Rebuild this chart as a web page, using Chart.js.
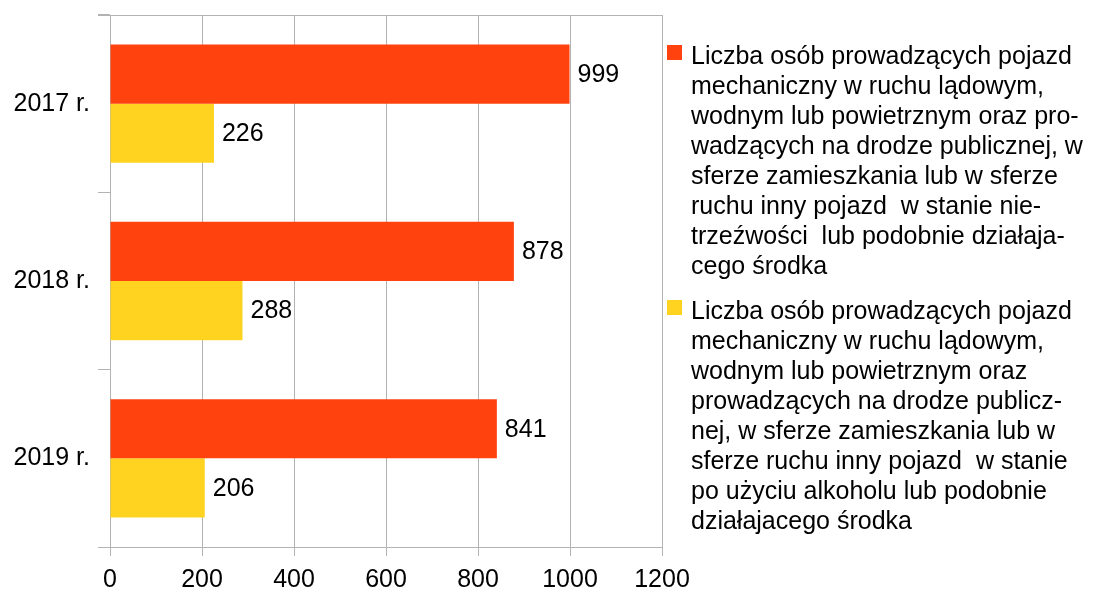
<!DOCTYPE html>
<html>
<head>
<meta charset="utf-8">
<script src="https://cdn.jsdelivr.net/npm/chart.js@4"></script>
<style>
    html, body { margin: 0; padding: 0; background: #ffffff; }
    body { width: 1103px; height: 592px; position: relative; overflow: hidden; font-family: "Liberation Sans", Arial, sans-serif; }
    #chartBox { position: absolute; left: 0; top: 0; width: 700px; height: 592px; }
    .legend-item { position: absolute; left: 667px; }
    .legend-box { position: absolute; left: 0; width: 15px; height: 15px; }
    .legend-text { position: absolute; left: 24px; font-size: 25px; line-height: 30px; color: #000; white-space: nowrap; }
</style>
</head>
<body>
<div id="chartBox"><canvas id="chart" width="700" height="592"></canvas></div>
<div class="legend-item" id="legend1" style="top: 40px;">
    <div class="legend-box" style="top: 5px; background: #ff420e;"></div>
    <div class="legend-text">Liczba osób prowadzących pojazd<br>mechaniczny w ruchu lądowym,<br>wodnym lub powietrznym oraz pro-<br>wadzących na drodze publicznej, w<br>sferze zamieszkania lub w sferze<br>ruchu inny pojazd&nbsp; w stanie nie-<br>trzeźwości&nbsp; lub podobnie działaja-<br>cego środka</div>
</div>
<div class="legend-item" id="legend2" style="top: 295px;">
    <div class="legend-box" style="top: 5px; background: #ffd320;"></div>
    <div class="legend-text">Liczba osób prowadzących pojazd<br>mechaniczny w ruchu lądowym,<br>wodnym lub powietrznym oraz<br>prowadzących na drodze publicz-<br>nej, w sferze zamieszkania lub w<br>sferze ruchu inny pojazd&nbsp; w stanie<br>po użyciu alkoholu lub podobnie<br>działajacego środka</div>
</div>
<script>
const years = ["2017 r.", "2018 r.", "2019 r."];
const drunkDrivers = [999, 878, 841];
const impairedDrivers = [226, 288, 206];
const xTicks = [0, 200, 400, 600, 800, 1000, 1200];

const FONT = "'Liberation Sans', Arial, sans-serif";
const GRID = "#b3b3b3";

const valueLabels = {
    id: "valueLabels",
    afterDatasetsDraw(chart) {
        const ctx = chart.ctx;
        ctx.save();
        ctx.font = "25px " + FONT;
        ctx.fillStyle = "#000000";
        ctx.textAlign = "left";
        ctx.textBaseline = "middle";
        chart.data.datasets.forEach((ds, i) => {
            chart.getDatasetMeta(i).data.forEach((bar, j) => {
                ctx.fillText(String(ds.data[j]), bar.x + 8, bar.y + 1);
            });
        });
        ctx.restore();
    }
};

const frameLine = {
    id: "frameLine",
    afterDraw(chart) {
        const a = chart.chartArea;
        const ctx = chart.ctx;
        ctx.save();
        ctx.strokeStyle = GRID;
        ctx.lineWidth = 1;
        ctx.beginPath();
        ctx.moveTo(a.left - 12, Math.round(a.top) + 0.5);
        ctx.lineTo(a.right, Math.round(a.top) + 0.5);
        ctx.stroke();
        ctx.restore();
    }
};

new Chart(document.getElementById("chart"), {
    type: "bar",
    data: {
        labels: years,
        datasets: [
            {
                label: "nietrzeźwi",
                data: drunkDrivers,
                backgroundColor: "#ff420e",
                categoryPercentage: 0.667,
                barPercentage: 1.0
            },
            {
                label: "po użyciu alkoholu",
                data: impairedDrivers,
                backgroundColor: "#ffd320",
                categoryPercentage: 0.667,
                barPercentage: 1.0
            }
        ]
    },
    options: {
        indexAxis: "y",
        responsive: false,
        animation: false,
        layout: {
            padding: { top: 15, right: 38, left: 0, bottom: 0 }
        },
        plugins: {
            legend: { display: false },
            tooltip: { enabled: false }
        },
        scales: {
            x: {
                min: 0,
                max: 1200,
                afterBuildTicks: scale => {
                    scale.ticks = xTicks.map(v => ({ value: v }));
                },
                afterFit: scale => {
                    scale.height = 45;
                },
                grid: {
                    color: GRID,
                    lineWidth: 1,
                    tickLength: 9
                },
                border: { color: GRID },
                ticks: {
                    color: "#000000",
                    padding: 9,
                    maxRotation: 0,
                    callback: value => String(value),
                    font: { family: FONT, size: 25 }
                }
            },
            y: {
                afterFit: scale => {
                    scale.width = 110;
                    scale.paddingTop = 0;
                    scale.paddingBottom = 0;
                },
                grid: {
                    display: true,
                    drawOnChartArea: false,
                    color: GRID,
                    tickLength: 12,
                    offset: true
                },
                border: { color: GRID },
                ticks: {
                    color: "#000000",
                    padding: 8,
                    font: { family: FONT, size: 25 }
                }
            }
        }
    },
    plugins: [valueLabels, frameLine]
});
</script>
</body>
</html>
